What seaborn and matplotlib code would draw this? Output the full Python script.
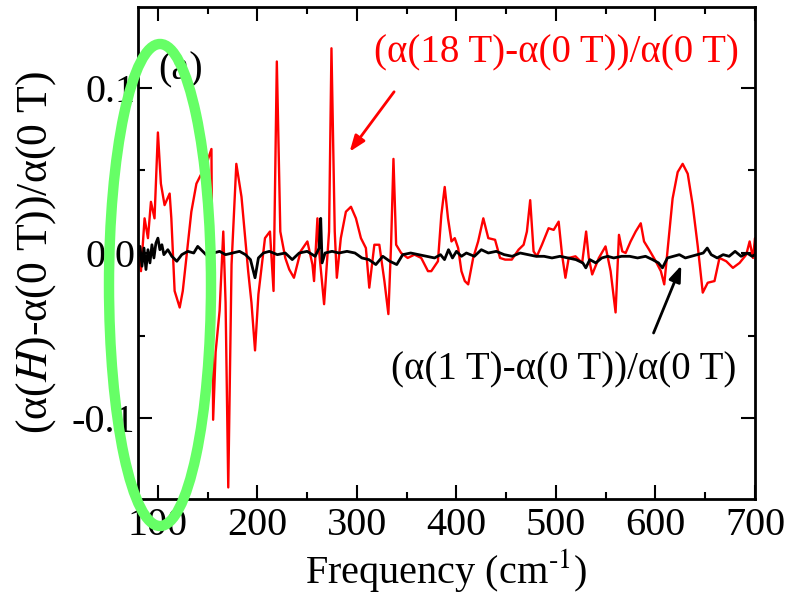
import numpy as np
import pandas as pd
import matplotlib
matplotlib.use("Agg")
import matplotlib.pyplot as plt
from matplotlib.patches import Ellipse
from matplotlib.ticker import MultipleLocator, FormatStrFormatter
import seaborn as sns

# ---------------- data ----------------
red_x = [80, 83, 86.6, 90, 93, 96.6, 100, 103, 106.7, 111.8, 113.5, 116.8, 121.9, 125, 130,
         133.6, 138.7, 143.7, 147, 150.5, 153.8, 155.5, 158, 162, 165.7, 168, 170.7, 174,
         178.8, 184, 190.7, 194, 197.6, 201, 207.6, 212.6, 216.2, 219.5, 223, 228,
         232, 236.7, 243.4, 250.2, 255.3, 256.9, 260.3, 262, 267, 272, 274.4, 277.7, 279.8,
         283.8, 288.9, 294, 299, 304, 309, 312.4, 317.5, 322.5, 327.6, 331.6, 334.3, 336.7,
         339.4, 344.4, 351, 357.8, 364.6, 371.4, 374.7, 381.4, 384.8, 388.2, 391.5, 395,
         398.3, 401.7, 405, 408.4, 411.8, 416.8, 421.8, 427, 432, 438.8, 443.8, 448.9,
         455.6, 462.4, 467.5, 470.8, 474.1, 477.5, 480.8, 485.9, 492.6, 497.7, 502.7, 506.1,
         509.5, 512.8, 519.6, 526.3, 530.3, 533, 536.4, 543.1, 549.8, 554.9, 559.9, 563.3,
         566.6, 570, 575, 580.1, 585.2, 588.5, 593.6, 600.3, 605.4, 608.8, 612.2, 617.2,
         622.3, 627.3, 632.4, 637.4, 642.5, 647.5, 652.5, 659.3, 664.3, 671.1, 677.8, 684.5,
         691.2, 694.6, 698, 700]
red_y = [0.003, -0.011, 0.021, 0.009, 0.031, 0.021, 0.073, 0.042, 0.029, 0.036, 0.021, -0.023,
         -0.033, -0.023, 0.005, 0.025, 0.042, 0.048, 0.046, 0.057, 0.063, -0.101, -0.06, -0.035,
         0.013, -0.03, -0.142, -0.007, 0.054, 0.034, -0.011, -0.03, -0.059, -0.025, 0.009, 0.013,
         -0.023, 0.116, 0.013, -0.003,
         -0.01, -0.015, 0.001, 0.007, -0.007, -0.017, 0.021, 0.001, -0.031, 0.013, 0.124, 0.013,
         -0.015, 0.009, 0.025, 0.028, 0.021, 0.009, 0.003, -0.021, 0.005, 0.005, -0.017, -0.037,
         0.005, 0.057, 0.005, 0.0, -0.003, -0.001, -0.003, -0.011, -0.011, -0.005, 0.023, 0.040,
         0.021, 0.007, 0.009, 0.003, -0.011, -0.017, -0.019, -0.003, 0.007, 0.021, 0.009, 0.008,
         -0.003, -0.004, -0.004, 0.002, 0.005, 0.013, 0.032, 0.001, -0.002, 0.005, 0.015, 0.014,
         0.019, -0.001, -0.015, -0.003, -0.002, -0.006, 0.013, -0.003, -0.013, -0.003, 0.004,
         -0.011, -0.036, 0.011, 0.001, 0.0, 0.007, 0.013, 0.018, 0.007, 0.002, -0.005, -0.011,
         -0.019, 0.002, 0.033, 0.049, 0.054, 0.048, 0.029, 0.004, -0.024, -0.018, -0.017, -0.003,
         -0.005, -0.009, -0.006, -0.001, 0.007, -0.003, 0.009]

black_x = [80, 82, 84, 86, 88, 90, 92, 94, 96, 98, 100, 102, 104, 106, 110, 114, 119, 124, 130,
           136, 140, 145, 150, 156, 162, 168, 175, 182, 188, 193, 197.6, 201, 206, 212, 220, 228,
           235, 242, 250, 258, 262, 263.6, 265, 268, 275, 282, 290, 298, 305, 312, 319, 326, 333,
           340, 346, 354, 362, 370, 378, 384, 388, 392, 396, 400, 405, 410, 418, 425, 432, 440,
           448, 456, 464, 472, 480, 488, 496, 504, 512, 520, 527, 530, 534, 540, 546, 552, 558,
           566, 574, 582, 590, 597, 603, 607, 612, 618, 624, 630, 636, 642, 648, 652, 656, 662,
           668, 674, 680, 686, 692, 697, 700]
black_y = [-0.002, 0.004, -0.008, 0.003, -0.010, 0.002, -0.006, 0.005, -0.003, 0.006, 0.009,
           0.002, 0.005, -0.001, 0.002, -0.002, -0.005, -0.001, 0.001, 0.0, 0.004, 0.001, -0.002,
           0.0, 0.001, -0.001, 0.0, 0.001, -0.001, -0.004, -0.015, -0.003, 0.0, 0.001, -0.001, 0.0,
           -0.004, 0.0, 0.001, -0.002, 0.003, 0.021, -0.006, 0.0, 0.001, 0.0, 0.001, 0.0, -0.003,
           -0.004, -0.007, -0.002, -0.005, -0.007, -0.001, 0.0, -0.001, -0.002, -0.003, -0.001,
           -0.004, 0.002, -0.003, 0.001, -0.002, 0.0, -0.002, 0.002, 0.0, 0.001, -0.001, -0.002,
           0.0, -0.001, -0.002, -0.002, -0.003, -0.002, -0.003, -0.004, -0.006, -0.009, -0.004,
           -0.006, -0.003, -0.002, -0.003, -0.002, -0.002, -0.003, -0.002, -0.004, -0.006, -0.009,
           -0.003, -0.002, -0.001, -0.003, -0.002, -0.001, 0.0, 0.003, -0.001, -0.003, -0.001,
           -0.002, 0.001, -0.002, 0.0, -0.002, -0.001]

red_label = "(α(18 T)-α(0 T))/α(0 T)"
black_label = "(α(1 T)-α(0 T))/α(0 T)"
panel_label = "(a)"
x_label = r"Frequency (cm$^{\text{-1}}$)"
y_label = r"(α($\mathit{H}$)-α(0 T))/α(0 T)"

# ---------------- style ----------------
sns.set_theme(style="ticks")
plt.rcParams["font.family"] = ["Liberation Serif", "DejaVu Serif"]
plt.rcParams["mathtext.fontset"] = "stix"
plt.rcParams["text.color"] = "black"
plt.rcParams["axes.labelcolor"] = "black"

fig = plt.figure(figsize=(7.85, 5.99), dpi=100)
ax = fig.add_axes([138 / 785, 100 / 599, (755 - 138) / 785, (499 - 7) / 599])

df_red = pd.DataFrame({"x": red_x, "y": red_y})
df_black = pd.DataFrame({"x": black_x, "y": black_y})
sns.lineplot(data=df_red, x="x", y="y", ax=ax, color="#ff0000", lw=1.7, sort=False)
sns.lineplot(data=df_black, x="x", y="y", ax=ax, color="black", lw=2.0, sort=False)

ax.set_xlim(80, 700)
ax.set_ylim(-0.149, 0.149)
ax.xaxis.set_major_locator(MultipleLocator(100))
ax.xaxis.set_minor_locator(MultipleLocator(50))
ax.yaxis.set_major_locator(MultipleLocator(0.1))
ax.yaxis.set_minor_locator(MultipleLocator(0.05))
ax.yaxis.set_major_formatter(FormatStrFormatter("%.1f"))

ax.tick_params(which="both", direction="in", top=True, right=True, width=1.5, colors="black")
ax.tick_params(which="major", length=10)
ax.tick_params(which="minor", length=5)
ax.tick_params(axis="x", which="major", labelsize=29, pad=6)
ax.tick_params(axis="y", which="major", labelsize=29, pad=2)
for s in ax.spines.values():
    s.set_linewidth(2)
    s.set_color("black")

ax.set_xlabel(x_label, fontsize=29, labelpad=2, color="black")
ax.set_ylabel(y_label, fontsize=31.5, labelpad=10, color="black")

ax.text(100, 0.111, panel_label, fontsize=29, ha="left", va="center", color="black")
ax.text(500, 0.121, red_label, fontsize=28, ha="center", va="center", color="#ff0000")
ax.text(508, -0.071, black_label, fontsize=28, ha="center", va="center", color="black")

ax.annotate("", xy=(291, 0.060), xytext=(339, 0.099),
            arrowprops=dict(arrowstyle="-|>,head_length=0.8,head_width=0.3",
                            color="#ff0000", lw=2))
ax.annotate("", xy=(627, -0.006), xytext=(597, -0.050),
            arrowprops=dict(arrowstyle="-|>,head_length=0.8,head_width=0.3",
                            color="black", lw=2))

ell = Ellipse((160 / 785, 1 - 285 / 599), 102 / 785, 482 / 599, transform=fig.transFigure,
              fill=False, edgecolor="#66ff66", lw=7.5, zorder=10)
fig.add_artist(ell)

fig.savefig("out.png", dpi=100)
